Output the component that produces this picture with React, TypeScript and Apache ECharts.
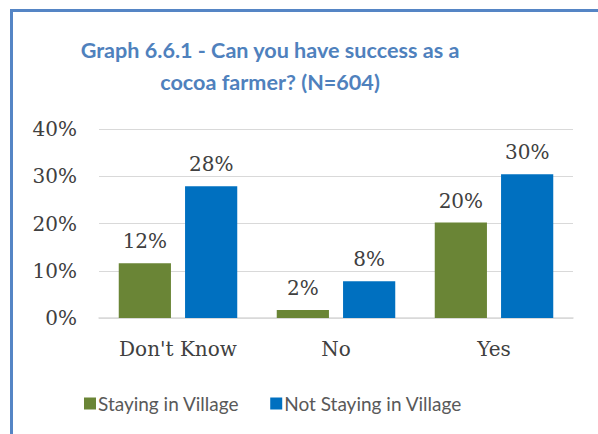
import React, { useEffect, useRef } from "react";
import * as echarts from "echarts";

const categories = ["Don't Know", "No", "Yes"];
const stayingInVillage = [11.6, 1.7, 20.2];
const notStayingInVillage = [27.9, 7.8, 30.4];
const seriesNames = ["Staying in Village", "Not Staying in Village"];
const titleLines = ["Graph 6.6.1 - Can you have success as a", "cocoa farmer? (N=604)"];

export default function App() {
  const ref = useRef<HTMLDivElement>(null);
  useEffect(() => {
    if (!ref.current) return;
    const chart = echarts.init(ref.current, undefined, { renderer: "svg" });
    const serif = "'DejaVu Serif', serif";
    const labelFmt = (p: any) => Math.round(p.value) + "%";
    chart.setOption({
      animation: false,
      backgroundColor: "#ffffff",
      graphic: [
        {
          type: "polyline",
          shape: { points: [[11.5, 434], [11.5, 10.5], [598, 10.5]] },
          style: { stroke: "#5585C5", lineWidth: 3, fill: null },
        },
        {
          type: "text",
          x: 270,
          y: 50,
          style: {
            text: titleLines[0],
            fill: "#4F81BD",
            font: "bold 21.6px Lato, sans-serif",
            textAlign: "center",
            textVerticalAlign: "middle",
          },
        },
        {
          type: "text",
          x: 270,
          y: 82,
          style: {
            text: titleLines[1],
            fill: "#4F81BD",
            font: "bold 21.6px Lato, sans-serif",
            textAlign: "center",
            textVerticalAlign: "middle",
          },
        },
      ],
      grid: { left: 99, right: 25, top: 129, bottom: 116 },
      legend: {
        left: 79,
        top: 389,
        itemWidth: 12,
        itemHeight: 12,
        itemGap: 31,
        icon: "rect",
        textStyle: { fontFamily: "Lato, sans-serif", fontSize: 19, color: "#595959", padding: [0, 0, 0, -3] },
        data: seriesNames,
      },
      xAxis: {
        type: "category",
        data: categories,
        axisTick: { show: false },
        axisLine: { lineStyle: { color: "#D9D9D9", width: 1.5 } },
        axisLabel: { fontFamily: serif, fontSize: 20, color: "#404040", margin: 21 },
      },
      yAxis: {
        type: "value",
        min: 0,
        max: 40,
        interval: 10,
        axisLabel: { formatter: "{value}%", fontFamily: serif, fontSize: 20, color: "#404040", margin: 22 },
        splitLine: { lineStyle: { color: "#D9D9D9", width: 1 } },
        axisLine: { show: false },
        axisTick: { show: false },
      },
      series: [
        {
          name: seriesNames[0],
          type: "bar",
          data: stayingInVillage,
          itemStyle: { color: "#6A8536" },
          barGap: "27%",
          barCategoryGap: "25%",
          label: { show: true, position: "top", distance: 12, formatter: labelFmt, fontFamily: serif, fontSize: 20, color: "#404040" },
        },
        {
          name: seriesNames[1],
          type: "bar",
          data: notStayingInVillage,
          itemStyle: { color: "#0070C0" },
          label: { show: true, position: "top", distance: 12, formatter: labelFmt, fontFamily: serif, fontSize: 20, color: "#404040" },
        },
      ],
    });
    return () => chart.dispose();
  }, []);
  return <div ref={ref} style={{ position: "fixed", left: 0, top: 0, width: 598, height: 434 }} />;
}
